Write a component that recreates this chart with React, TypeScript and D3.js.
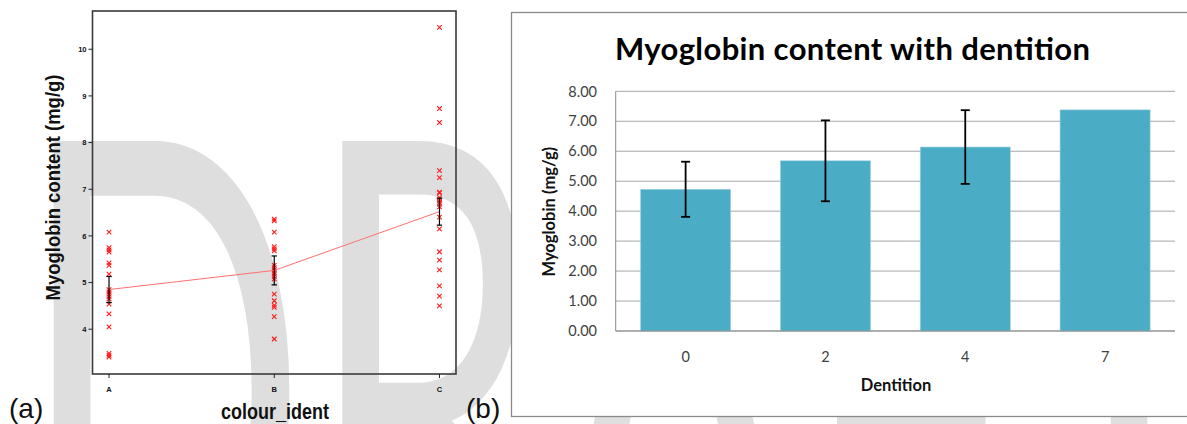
import React from "react";
import * as d3 from "d3";

const W = 1187;
const H = 424;

// ---- Panel (a): myoglobin content per colour group ----
const colourGroups = ["A", "B", "C"];
const groupA = [6.08, 5.75, 5.7, 5.65, 5.42, 5.37, 5.18, 4.85, 4.8, 4.75, 4.7, 4.65, 4.54, 4.33, 4.05, 3.48, 3.44, 3.4];
const groupB = [6.36, 6.32, 6.08, 5.77, 5.72, 5.68, 5.37, 5.32, 5.27, 5.22, 5.18, 5.13, 5.08, 4.75, 4.61, 4.51, 4.47, 4.27, 3.79];
const groupC = [10.47, 8.73, 8.43, 7.4, 7.25, 6.94, 6.92, 6.82, 6.77, 6.72, 6.68, 6.62, 6.4, 6.15, 5.66, 5.48, 5.27, 4.93, 4.71, 4.5];
const groupMeans = [4.85, 5.26, 6.52];
const groupSE = [0.28, 0.31, 0.29];
const leftTicks = [4, 5, 6, 7, 8, 9, 10];

// ---- Panel (b): myoglobin by dentition ----
const dentition = ["0", "2", "4", "7"];
const dentitionMeans = [4.73, 5.68, 6.14, 7.38];
const dentitionErr: (number | null)[] = [0.92, 1.35, 1.23, null];
const rightTicks = [0, 1, 2, 3, 4, 5, 6, 7, 8];

const WATERMARK = "DRAFT";

const ARIAL = "'Liberation Sans', Arial, Helvetica, sans-serif";
const CALIBRI = "Lato, 'Open Sans', sans-serif";

function PanelA() {
  const frame = { left: 92.5, right: 456, top: 11, bottom: 374 };
  const y = d3.scaleLinear().domain([3.04, 10.82]).range([frame.bottom, frame.top]);
  const x = d3.scalePoint<string>().domain(colourGroups).range([frame.left, frame.right]).padding(0.1);
  const groups = [groupA, groupB, groupC];
  const cross = d3.symbol().type(d3.symbolX).size(15)() as string;
  const meanLine = d3
    .line<number>()
    .x((_, i) => x(colourGroups[i]) as number)
    .y((d) => y(d))(groupMeans) as string;

  return (
    <g>
      {/* observations */}
      {groups.map((vals, gi) =>
        vals.map((v, i) => (
          <path
            key={`${gi}-${i}`}
            d={cross}
            transform={`translate(${x(colourGroups[gi])},${y(v)})`}
            fill="none"
            stroke="#ff1a1a"
            strokeWidth={1.1}
          />
        ))
      )}
      {/* line through group means */}
      <path d={meanLine} fill="none" stroke="#ff7070" strokeWidth={1} />
      {/* standard-error bars */}
      {groupMeans.map((m, i) => {
        const cx = x(colourGroups[i]) as number;
        const y1 = y(m + groupSE[i]);
        const y2 = y(m - groupSE[i]);
        return (
          <g key={i} stroke="#000" strokeWidth={1.2}>
            <line x1={cx} x2={cx} y1={y1} y2={y2} />
            <line x1={cx - 2.7} x2={cx + 2.7} y1={y1} y2={y1} />
            <line x1={cx - 2.7} x2={cx + 2.7} y1={y2} y2={y2} />
          </g>
        );
      })}
      {/* frame */}
      <rect
        x={frame.left}
        y={frame.top}
        width={frame.right - frame.left}
        height={frame.bottom - frame.top}
        fill="none"
        stroke="#3a3a3a"
        strokeWidth={1.6}
      />
      {/* y ticks */}
      {leftTicks.map((t) => (
        <g key={t}>
          <line x1={frame.left - 4} x2={frame.left} y1={y(t)} y2={y(t)} stroke="#222" strokeWidth={1} />
          <text
            x={frame.left - 6}
            y={y(t)}
            dy="0.35em"
            textAnchor="end"
            fontFamily={ARIAL}
            fontWeight="bold"
            fontSize={7.5}
            fill="#111"
          >
            {t}
          </text>
        </g>
      ))}
      {/* x ticks */}
      {colourGroups.map((c) => (
        <g key={c}>
          <line x1={x(c)} x2={x(c)} y1={frame.bottom} y2={frame.bottom + 4} stroke="#222" strokeWidth={1} />
          <text
            x={x(c)}
            y={392}
            textAnchor="middle"
            fontFamily={ARIAL}
            fontWeight="bold"
            fontSize={7.5}
            fill="#111"
          >
            {c}
          </text>
        </g>
      ))}
      <text
        transform={`translate(60,187.5) rotate(-90) scale(1,1.1)`}
        textAnchor="middle"
        fontFamily={ARIAL}
        fontWeight="bold"
        fontSize={18.5}
        fill="#111"
      >
        Myoglobin content (mg/g)
      </text>
      <text
        transform="translate(275,419) scale(1,1.2)"
        textAnchor="middle"
        fontFamily={ARIAL}
        fontWeight="bold"
        fontSize={18}
        fill="#111"
      >
        colour_ident
      </text>
      <text x={9} y={418} fontFamily={ARIAL} fontSize={28} fill="#111">
        (a)
      </text>
      <text x={466} y={418} fontFamily={ARIAL} fontSize={28} fill="#111">
        (b)
      </text>
    </g>
  );
}

function PanelB() {
  const box = { left: 511.5, top: 12.5, right: 1192, bottom: 416.5 };
  const plot = { left: 615.7, right: 1175, top: 91.3, bottom: 331 };
  const y = d3.scaleLinear().domain([0, 8]).range([plot.bottom, plot.top]);
  const x = d3
    .scaleBand<string>()
    .domain(dentition)
    .range([plot.left, plot.right])
    .paddingInner(0.356)
    .paddingOuter(0.178);
  const bw = x.bandwidth();

  return (
    <g>
      <rect
        x={box.left}
        y={box.top}
        width={box.right - box.left}
        height={box.bottom - box.top}
        fill="#fff"
        stroke="#8a8a8a"
        strokeWidth={1.3}
      />
      <text
        x={852.5}
        y={60}
        textAnchor="middle"
        fontFamily={CALIBRI}
        fontWeight="bold"
        fontSize={31}
        textLength={475}
        lengthAdjust="spacing"
        fill="#000"
      >
        Myoglobin content with dentition
      </text>
      {/* gridlines */}
      {rightTicks.map((t) => (
        <g key={t}>
          <line x1={plot.left} x2={plot.right} y1={y(t)} y2={y(t)} stroke="#a6a6a6" strokeWidth={1} />
          <text
            x={597}
            y={y(t)}
            dy="0.36em"
            textAnchor="end"
            fontFamily={CALIBRI}
            fontSize={14.5}
            fill="#404040"
          >
            {d3.format(".2f")(t)}
          </text>
        </g>
      ))}
      <line x1={plot.left} x2={plot.left} y1={plot.top} y2={plot.bottom} stroke="#8a8a8a" strokeWidth={1} />
      {/* bars */}
      {dentition.map((d, i) => (
        <rect
          key={d}
          x={x(d)}
          y={y(dentitionMeans[i])}
          width={bw}
          height={y(0) - y(dentitionMeans[i])}
          fill="#4bacc6"
          stroke="#9fd3e1"
          strokeWidth={0.6}
        />
      ))}
      <line x1={plot.left} x2={plot.right} y1={plot.bottom} y2={plot.bottom} stroke="#8a8a8a" strokeWidth={1.2} />
      {/* error bars */}
      {dentition.map((d, i) => {
        const e = dentitionErr[i];
        if (e == null) return null;
        const cx = (x(d) as number) + bw / 2;
        const y1 = y(dentitionMeans[i] + e);
        const y2 = y(dentitionMeans[i] - e);
        return (
          <g key={d} stroke="#000" strokeWidth={1.8}>
            <line x1={cx} x2={cx} y1={y1} y2={y2} />
            <line x1={cx - 4.5} x2={cx + 4.5} y1={y1} y2={y1} />
            <line x1={cx - 4.5} x2={cx + 4.5} y1={y2} y2={y2} />
          </g>
        );
      })}
      {/* category labels */}
      {dentition.map((d) => (
        <text
          key={d}
          x={(x(d) as number) + bw / 2}
          y={361.5}
          textAnchor="middle"
          fontFamily={CALIBRI}
          fontSize={14.5}
          fill="#404040"
        >
          {d}
        </text>
      ))}
      <text x={896} y={390.5} textAnchor="middle" fontFamily={CALIBRI} fontWeight="bold" fontSize={16.5} fill="#111">
        Dentition
      </text>
      <text
        transform={`translate(555,211.7) rotate(-90)`}
        textAnchor="middle"
        fontFamily={CALIBRI}
        fontWeight="bold"
        fontSize={16.5}
        fill="#111"
      >
        Myoglobin (mg/g)
      </text>
    </g>
  );
}

export default function App() {
  return (
    <svg
      width={W}
      height={H}
      viewBox={`0 0 ${W} ${H}`}
      style={{ position: "absolute", left: 0, top: 0, background: "#fff" }}
    >
      <rect width={W} height={H} fill="#fff" />
      {/* background watermark */}
      <text
        transform="translate(19,640) scale(0.91,1.67)"
        fontFamily={CALIBRI}
        fontSize={417}
        fill="#dedede"
      >
        {WATERMARK}
      </text>
      <PanelA />
      <PanelB />
    </svg>
  );
}
